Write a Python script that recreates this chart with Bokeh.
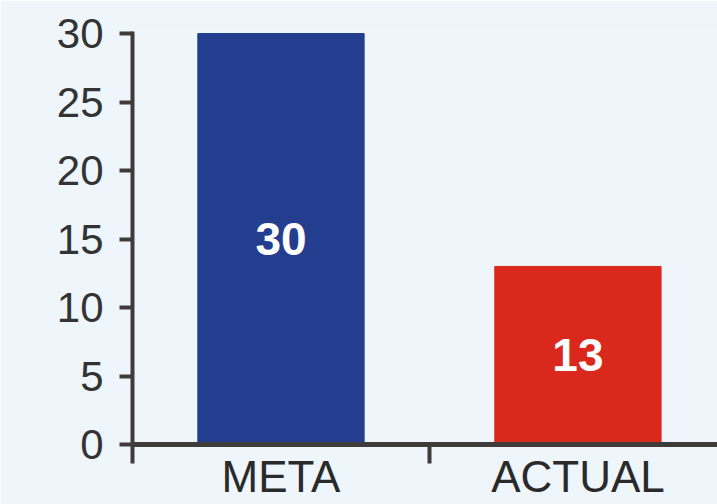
from bokeh.plotting import figure
from bokeh.models import ColumnDataSource, Range1d, FixedTicker
from bokeh.core.properties import value
from bokeh.embed import file_html
from bokeh.resources import INLINE

categories = ["META", "ACTUAL"]
values = [30, 13]
colors = ["#233E8F", "#DA291C"]
y_ticks = [0, 5, 10, 15, 20, 25, 30]

xs = [i + 0.5 for i in range(len(categories))]
src = ColumnDataSource(dict(
    x=xs, top=values, color=colors,
    mid=[v / 2 for v in values], label=[str(v) for v in values],
))

p = figure(width=717, height=504, output_backend="svg", toolbar_location=None,
           x_range=Range1d(0, 1.97), y_range=Range1d(0, 30.15),
           min_border_left=132, min_border_right=0, min_border_top=31,
           min_border_bottom=60)
p.background_fill_color = "#EEF6FC"
p.border_fill_color = "#EEF6FC"
p.outline_line_color = None
p.xgrid.visible = False
p.ygrid.visible = False

p.vbar(x="x", top="top", width=0.56, color="color", source=src)
p.text(x="x", y="mid", text="label", source=src, text_color="white",
       text_font=value("Liberation Sans"), text_font_style="bold",
       text_font_size="46px", text_align="center", text_baseline="middle")

axis_color = "#3F3B3B"
# y axis
ya = p.yaxis[0]
ya.ticker = FixedTicker(ticks=y_ticks)
ya.axis_line_color = axis_color
ya.axis_line_width = 4
ya.major_tick_line_color = axis_color
ya.major_tick_line_width = 4
ya.major_tick_out = 13
ya.major_tick_in = 0
ya.minor_tick_line_color = None
ya.major_label_standoff = 16
ya.major_label_text_font = "Liberation Sans"
ya.major_label_text_font_size = "42px"
ya.major_label_text_color = "#333333"

# x axis
xa = p.xaxis[0]
xa.ticker = FixedTicker(ticks=xs, minor_ticks=[0, 1, 2])
xa.major_label_overrides = {x: c for x, c in zip(xs, categories)}
xa.axis_line_color = axis_color
xa.axis_line_width = 5
xa.major_tick_line_color = None
xa.major_tick_out = 0
xa.major_tick_in = 0
xa.minor_tick_line_color = axis_color
xa.minor_tick_line_width = 4
xa.minor_tick_out = 19
xa.minor_tick_in = 0
xa.major_label_standoff = -12
xa.major_label_text_font = "Liberation Sans"
xa.major_label_text_font_size = "44px"
xa.major_label_text_color = "#2A2A2A"

open("out.html", "w").write(file_html(p, INLINE))
